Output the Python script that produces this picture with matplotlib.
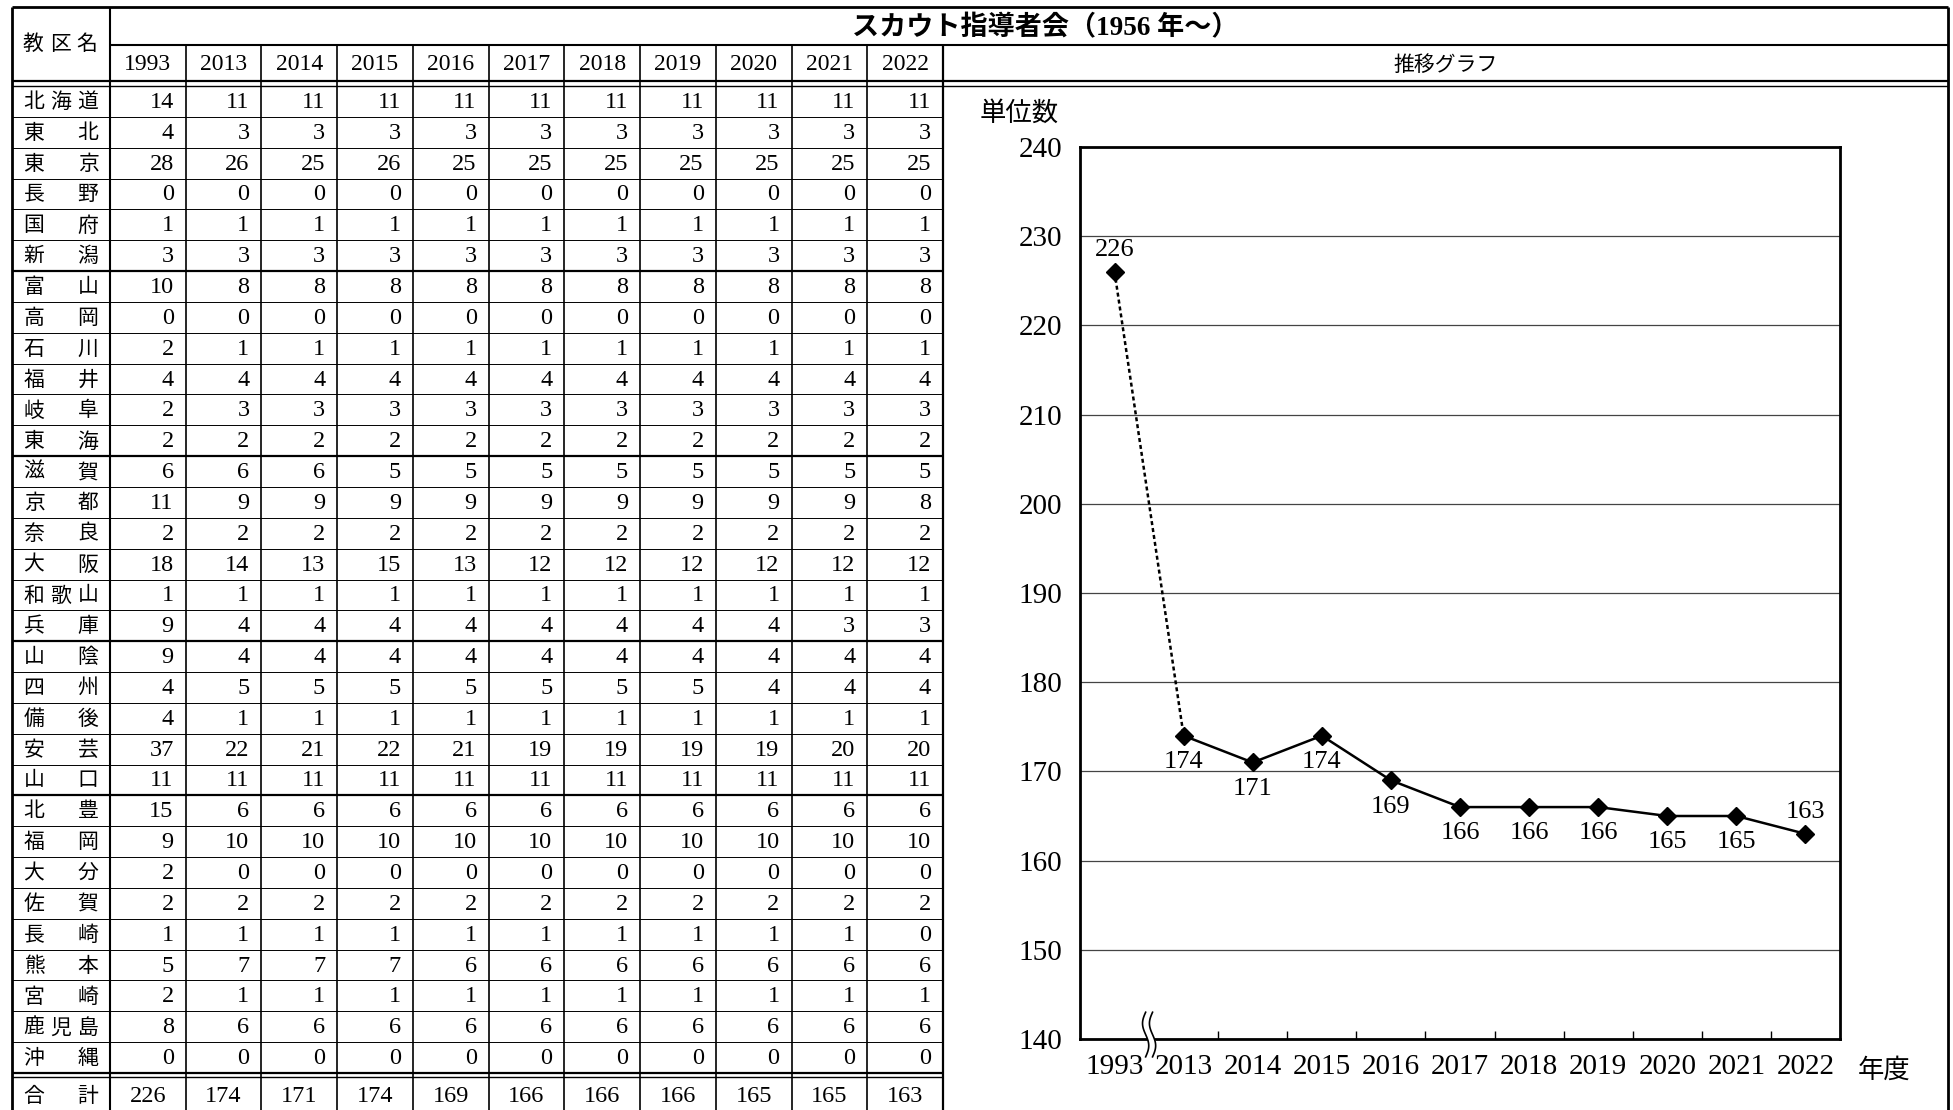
import matplotlib
matplotlib.use("Agg")
import matplotlib.pyplot as plt
import numpy as np

plt.rcParams["font.family"] = ["Liberation Serif", "Noto Sans CJK JP"]

# ---- data -------------------------------------------------------------
years = ["1993", "2013", "2014", "2015", "2016", "2017",
         "2018", "2019", "2020", "2021", "2022"]

districts = ["北海道", "東北", "東京", "長野", "国府", "新潟",
             "富山", "高岡", "石川", "福井", "岐阜", "東海",
             "滋賀", "京都", "奈良", "大阪", "和歌山", "兵庫",
             "山陰", "四州", "備後", "安芸", "山口",
             "北豊", "福岡", "大分", "佐賀", "長崎", "熊本", "宮崎", "鹿児島", "沖縄"]

units = [
    [14, 11, 11, 11, 11, 11, 11, 11, 11, 11, 11],
    [4, 3, 3, 3, 3, 3, 3, 3, 3, 3, 3],
    [28, 26, 25, 26, 25, 25, 25, 25, 25, 25, 25],
    [0, 0, 0, 0, 0, 0, 0, 0, 0, 0, 0],
    [1, 1, 1, 1, 1, 1, 1, 1, 1, 1, 1],
    [3, 3, 3, 3, 3, 3, 3, 3, 3, 3, 3],
    [10, 8, 8, 8, 8, 8, 8, 8, 8, 8, 8],
    [0, 0, 0, 0, 0, 0, 0, 0, 0, 0, 0],
    [2, 1, 1, 1, 1, 1, 1, 1, 1, 1, 1],
    [4, 4, 4, 4, 4, 4, 4, 4, 4, 4, 4],
    [2, 3, 3, 3, 3, 3, 3, 3, 3, 3, 3],
    [2, 2, 2, 2, 2, 2, 2, 2, 2, 2, 2],
    [6, 6, 6, 5, 5, 5, 5, 5, 5, 5, 5],
    [11, 9, 9, 9, 9, 9, 9, 9, 9, 9, 8],
    [2, 2, 2, 2, 2, 2, 2, 2, 2, 2, 2],
    [18, 14, 13, 15, 13, 12, 12, 12, 12, 12, 12],
    [1, 1, 1, 1, 1, 1, 1, 1, 1, 1, 1],
    [9, 4, 4, 4, 4, 4, 4, 4, 4, 3, 3],
    [9, 4, 4, 4, 4, 4, 4, 4, 4, 4, 4],
    [4, 5, 5, 5, 5, 5, 5, 5, 4, 4, 4],
    [4, 1, 1, 1, 1, 1, 1, 1, 1, 1, 1],
    [37, 22, 21, 22, 21, 19, 19, 19, 19, 20, 20],
    [11, 11, 11, 11, 11, 11, 11, 11, 11, 11, 11],
    [15, 6, 6, 6, 6, 6, 6, 6, 6, 6, 6],
    [9, 10, 10, 10, 10, 10, 10, 10, 10, 10, 10],
    [2, 0, 0, 0, 0, 0, 0, 0, 0, 0, 0],
    [2, 2, 2, 2, 2, 2, 2, 2, 2, 2, 2],
    [1, 1, 1, 1, 1, 1, 1, 1, 1, 1, 0],
    [5, 7, 7, 7, 6, 6, 6, 6, 6, 6, 6],
    [2, 1, 1, 1, 1, 1, 1, 1, 1, 1, 1],
    [8, 6, 6, 6, 6, 6, 6, 6, 6, 6, 6],
    [0, 0, 0, 0, 0, 0, 0, 0, 0, 0, 0],
]

totals = [226, 174, 171, 174, 169, 166, 166, 166, 165, 165, 163]

title = "スカウト指導者会（1956 年～）"

# ---- layout (pixels) --------------------------------------------------
W, H = 1953, 1110
x_left, x_name, x_graph, x_right = 12, 110, 943, 1948
y_top, y_h1, y_h2a, y_h2b = 7, 45, 81, 86
y_sum_a, y_sum_b = 1073, 1077
col_w = (x_graph - x_name) / len(years)
row_h = (y_sum_a - y_h2b) / len(districts)
group_ends = {"新潟", "東海", "兵庫", "山口"}

fig = plt.figure(figsize=(W / 100, H / 100), dpi=100)
tab = fig.add_axes([0, 0, 1, 1])
tab.set_xlim(0, W)
tab.set_ylim(H, 0)
tab.axis("off")

def hline(y, x0, x1, lw):
    tab.plot([x0, x1], [y, y], color="black", lw=lw, solid_capstyle="butt")

def vline(x, y0, y1, lw):
    tab.plot([x, x], [y0, y1], color="black", lw=lw, solid_capstyle="butt")

# frame
hline(y_top, x_left, x_right, 2.0)
vline(x_left, y_top, H, 2.0)
vline(x_right, y_top, H, 2.0)
hline(y_h1, x_name, x_right, 1.5)
vline(x_name, y_top, H, 1.5)
hline(y_h2a, x_left, x_right, 1.6)
hline(y_h2b, x_left, x_right, 1.0)
for k in range(1, len(years)):
    vline(x_name + k * col_w, y_h1, H, 1.2)
vline(x_graph, y_h1, H, 1.6)
for i in range(1, len(districts)):
    lw = 1.6 if districts[i - 1] in group_ends else 0.7
    hline(y_h2b + i * row_h, x_left, x_graph, lw)
hline(y_sum_a, x_left, x_graph, 1.6)
hline(y_sum_b, x_left, x_graph, 1.0)

# header texts
for ch, cx in zip("教区名", [33, 60, 87]):
    tab.text(cx, 45, ch, ha="center", va="center", fontsize=15)
tab.text((x_name + x_right) / 2 + 16, 28, title, ha="center", va="center",
         fontsize=19.5, fontweight="bold")
tab.text((x_graph + x_right) / 2, 66, "推移グラフ", ha="center", va="center",
         fontsize=15)
for k, yr in enumerate(years):
    tab.text(x_name + (k + 0.5) * col_w, 65, yr, ha="center", va="center",
             fontsize=17)


def name_cell(name, yc):
    xs_c = [34, 61, 88] if len(name) == 3 else [34, 88]
    for ch, cx in zip(name, xs_c):
        tab.text(cx, yc + 2, ch, ha="center", va="center", fontsize=15)


for i, (name, row) in enumerate(zip(districts, units)):
    yc = y_h2b + (i + 0.5) * row_h
    name_cell(name, yc)
    for k, v in enumerate(row):
        tab.text(x_name + (k + 1) * col_w - 12, yc + 1, str(v), ha="right",
                 va="center", fontsize=17.5)

yc = 1095
name_cell("合計", yc)
for k, v in enumerate(totals):
    tab.text(x_name + (k + 0.5) * col_w, yc + 1, str(v), ha="center",
             va="center", fontsize=17.5)

# ---- chart ------------------------------------------------------------
ax = fig.add_axes([1080 / W, 1 - 1039 / H, 760 / W, 892 / H])
xs = np.arange(len(years))
ax.plot(xs[:2], totals[:2], color="black", lw=1.8, ls=(0, (1.6, 1.2)))
ax.plot(xs[1:], totals[1:], color="black", lw=1.8)
ax.plot(xs, totals, ls="none", marker="D", ms=9, color="black", zorder=4)
for i, v in enumerate(totals):
    dy = 16 if i in (0, len(totals) - 1) else -19
    ax.annotate(str(v), (xs[i], v), xytext=(0, dy), textcoords="offset points",
                ha="center", va="center", fontsize=19)

ax.set_xlim(-0.5, len(years) - 0.5)
ax.set_ylim(140, 240)
ax.set_yticks(range(140, 241, 10))
ax.grid(axis="y", color="#444444", lw=0.9)
ax.set_axisbelow(True)
ax.set_xticks(xs, years)
ax.set_xticks(xs[1:-1] + 0.5, minor=True)
ax.tick_params(axis="x", which="major", length=0, pad=11, labelsize=21)
ax.tick_params(axis="x", which="minor", direction="in", length=6, width=1)
ax.tick_params(axis="y", length=0, pad=13, labelsize=21)
for s in ax.spines.values():
    s.set_linewidth(2.0)

# axis break mark between 1993 and 2013
t = np.linspace(0, 1, 60)
yy = 140 + (-2.0 + 5.0 * t)
wig = 0.045 * np.sin(2 * np.pi * t)
ax.fill_betweenx(yy, 0.5 - 0.05 + wig, 0.5 + 0.05 + wig, color="white",
                 clip_on=False, zorder=5, lw=0)
for off in (-0.05, 0.05):
    ax.plot(0.5 + off + wig, yy, color="black", lw=1.2, clip_on=False, zorder=6)

tab.text(1019, 113, "単位数", ha="center", va="center", fontsize=19)
tab.text(1884, 1070, "年度", ha="center", va="center", fontsize=19)

fig.savefig("out.png", dpi=100)
